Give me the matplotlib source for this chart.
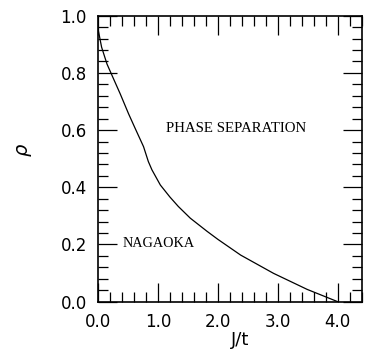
import matplotlib
matplotlib.use("Agg")
import matplotlib.pyplot as plt
from matplotlib.ticker import MultipleLocator

# Data
J = [0.0, 0.06, 0.15, 0.23, 0.37, 0.51, 0.62, 0.76, 0.84, 0.90, 1.04, 1.20, 1.34,
     1.54, 1.82, 2.0, 2.38, 2.93, 3.49, 4.0]
rho = [0.954, 0.89, 0.831, 0.793, 0.727, 0.657, 0.606, 0.542, 0.49, 0.461, 0.408, 0.366, 0.333,
       0.292, 0.246, 0.218, 0.163, 0.099, 0.043, 0.0]

xticks = [0.0, 1.0, 2.0, 3.0, 4.0]
xticklabels = ["0.0", "1.0", "2.0", "3.0", "4.0"]
yticks = [0.0, 0.2, 0.4, 0.6, 0.8, 1.0]
yticklabels = ["0.0", "0.2", "0.4", "0.6", "0.8", "1.0"]

fig = plt.figure(figsize=(3.65, 3.52), dpi=100)
ax = fig.add_axes([0.2685, 0.1429, 0.9910 - 0.2685, 0.9554 - 0.1429])

ax.plot(J, rho, color="black", lw=0.9)

ax.set_xlim(0, 4.4)
ax.set_ylim(0, 1.0)
ax.set_xticks(xticks)
ax.set_xticklabels(xticklabels)
ax.set_yticks(yticks)
ax.set_yticklabels(yticklabels)
ax.xaxis.set_minor_locator(MultipleLocator(0.2))
ax.yaxis.set_minor_locator(MultipleLocator(0.04))

ax.tick_params(which="both", direction="in", top=True, right=True, width=0.9, color="black")
ax.tick_params(which="major", length=14, pad=8, labelsize=12)
ax.tick_params(which="minor", length=7)
for s in ax.spines.values():
    s.set_linewidth(1.2)

ax.set_xlabel("J/t", fontsize=13, labelpad=0, x=0.54)
ax.set_ylabel(r"$\rho$", fontsize=14, labelpad=19, y=0.53)

ax.text(2.3, 0.604, "PHASE SEPARATION", family="Liberation Serif", fontsize=10.7,
        ha="center", va="center")
ax.text(1.02, 0.202, "NAGAOKA", family="Liberation Serif", fontsize=10.3,
        ha="center", va="center")

fig.savefig("out.png", dpi=100)
